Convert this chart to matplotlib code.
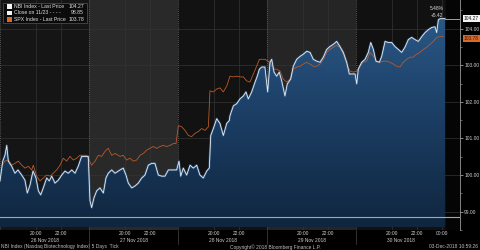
import numpy as np
import matplotlib
matplotlib.use("Agg")
import matplotlib.pyplot as plt
from matplotlib import font_manager
from matplotlib.patches import Rectangle
from matplotlib.colors import LinearSegmentedColormap
import matplotlib.transforms as mtransforms

# ---------------- data (chart time in session-hours, compressed axis) ----------------
days = ["26 Nov 2018", "27 Nov 2018", "28 Nov 2018", "29 Nov 2018", "30 Nov 2018"]
tick_clock = ["20:00", "22:00"]
last_day_extra = ["00:00"]

nbi_t = [0.00, 0.21, 0.38, 0.52, 0.64, 0.90, 1.15, 1.38, 1.67, 1.92, 2.10, 2.31, 2.54, 2.77, 2.95,
         3.13, 3.33, 3.59, 3.79, 3.98, 4.23, 4.48, 4.75, 5.00, 5.25, 5.52, 5.77, 6.02, 6.28, 6.54,
         6.79, 6.92, 7.05, 7.23, 7.44, 7.69, 7.95, 8.15, 8.33, 8.59, 8.85, 9.10, 9.23, 9.48, 9.69,
         9.87, 10.13, 10.38, 10.64, 10.90, 11.15, 11.41, 11.67, 11.92, 12.18, 12.44, 12.69, 12.95,
         13.21, 13.59, 13.77, 13.90, 14.10, 14.36, 14.62, 14.87, 15.13, 15.38, 15.64, 15.90, 16.10,
         16.21, 16.41, 16.67, 16.92, 17.18, 17.44, 17.64, 17.69, 17.95, 18.21, 18.46, 18.72, 18.92,
         19.10, 19.36, 19.62, 19.79, 19.95, 20.13, 20.38, 20.59, 20.77, 20.90, 21.08, 21.28, 21.48,
         21.67, 21.92, 22.10, 22.36, 22.56, 22.82, 23.08, 23.33, 23.59, 23.85, 24.10, 24.36, 24.62,
         24.87, 25.13, 25.38, 25.64, 25.90, 26.15, 26.41, 26.67, 26.87, 27.13, 27.31, 27.44, 27.56,
         27.82, 28.08, 28.33, 28.52, 28.72, 28.92, 29.18, 29.36, 29.62, 29.87, 30.13, 30.38, 30.64,
         30.90, 31.15, 31.41, 31.67, 31.92, 32.18, 32.44, 32.69, 32.95, 33.21, 33.46, 33.59, 33.72,
         33.85, 34.23]
nbi_v = [99.84, 100.38, 100.54, 100.81, 100.38, 100.24, 100.05, 100.14, 100.00, 99.86, 99.51, 99.73,
         100.11, 99.92, 99.57, 99.46, 99.65, 99.92, 99.84, 99.97, 99.78, 99.86, 100.00, 100.11,
         100.05, 100.14, 100.05, 100.24, 100.51, 100.51, 100.51, 99.30, 99.11, 99.38, 99.57, 99.65,
         99.51, 99.92, 100.05, 100.14, 100.05, 100.11, 100.14, 100.19, 100.00, 99.78, 99.65, 99.70,
         99.78, 99.92, 100.00, 100.27, 100.32, 100.32, 100.00, 99.97, 99.97, 100.14, 100.14, 100.14,
         100.38, 99.97, 100.19, 100.00, 100.27, 100.19, 100.27, 100.00, 99.92, 100.11, 100.19,
         101.08, 101.27, 101.54, 101.41, 101.08, 101.41, 101.49, 101.62, 101.89, 101.95, 102.08,
         102.16, 102.27, 102.08, 102.27, 102.54, 102.70, 102.89, 102.95, 102.95, 102.27, 103.08,
         103.16, 102.81, 102.70, 102.81, 102.57, 102.16, 102.49, 102.62, 102.97, 103.16, 103.24,
         103.30, 103.38, 103.35, 103.16, 103.11, 103.08, 103.22, 103.43, 103.51, 103.57, 103.65,
         103.51, 103.35, 103.08, 102.76, 102.76, 102.76, 102.49, 102.89, 103.08, 103.16, 103.35,
         103.62, 103.43, 103.11, 103.08, 103.24, 103.65, 103.62, 103.62, 103.51, 103.43, 103.35,
         103.49, 103.70, 103.76, 103.70, 103.65, 103.78, 103.89, 103.97, 104.03, 104.05, 103.89,
         104.24, 104.27, 104.27]

spx_t = [0.13, 0.38, 0.64, 0.90, 1.15, 1.41, 1.67, 1.92, 2.18, 2.44, 2.56, 2.82, 3.08, 3.33, 3.59,
         3.85, 4.10, 4.36, 4.62, 4.87, 5.13, 5.38, 5.64, 5.90, 6.15, 6.41, 6.67, 7.05, 7.31, 7.56,
         7.82, 8.08, 8.33, 8.59, 8.85, 9.10, 9.23, 9.48, 9.74, 10.00, 10.26, 10.51, 10.77, 11.03,
         11.28, 11.54, 11.79, 12.05, 12.31, 12.56, 12.82, 13.08, 13.33, 13.54, 13.72, 13.97, 14.23,
         14.49, 14.74, 15.00, 15.26, 15.51, 15.77, 16.03, 16.15, 16.41, 16.67, 16.92, 17.18, 17.44,
         17.69, 17.95, 18.21, 18.46, 18.72, 18.98, 19.23, 19.49, 19.74, 19.95, 20.13, 20.38, 20.77,
         21.02, 21.28, 21.54, 21.79, 22.05, 22.31, 22.56, 22.82, 23.08, 23.33, 23.59, 23.85, 24.10,
         24.36, 24.62, 24.87, 25.13, 25.38, 25.64, 25.90, 26.15, 26.41, 26.67, 26.92, 27.18, 27.44,
         27.69, 27.95, 28.21, 28.46, 28.72, 28.98, 29.23, 29.49, 29.74, 30.00, 30.26, 30.51, 30.77,
         31.02, 31.28, 31.54, 31.79, 32.05, 32.31, 32.56, 32.82, 33.08, 33.33, 33.59, 33.85, 34.10]
spx_v = [100.27, 100.38, 100.41, 100.27, 100.32, 100.38, 100.27, 100.19, 100.24, 100.14, 100.27,
         99.97, 99.84, 99.92, 100.00, 99.97, 100.05, 100.14, 100.27, 100.46, 100.38, 100.51, 100.41,
         100.46, 100.54, 100.54, 100.54, 100.27, 100.38, 100.54, 100.51, 100.65, 100.73, 100.54,
         100.59, 100.54, 100.51, 100.54, 100.41, 100.46, 100.38, 100.41, 100.54, 100.59, 100.68,
         100.73, 100.78, 100.73, 100.78, 100.81, 100.78, 100.81, 100.86, 100.86, 101.35, 101.32,
         101.22, 101.08, 101.05, 101.14, 101.19, 101.27, 101.22, 101.32, 102.30, 102.27, 102.35,
         102.38, 102.27, 102.43, 102.70, 102.68, 102.70, 102.68, 102.68, 102.57, 102.54, 102.76,
         102.97, 103.16, 103.16, 103.16, 103.08, 102.89, 102.89, 102.84, 102.62, 102.54, 102.62,
         102.89, 102.95, 102.97, 103.03, 103.08, 103.03, 102.97, 102.97, 103.03, 103.16, 103.35,
         103.43, 103.49, 103.54, 103.49, 103.30, 103.03, 102.84, 102.81, 102.84, 102.97, 103.08,
         103.11, 103.35, 103.24, 103.11, 103.08, 103.11, 103.11, 103.08, 103.03, 102.97, 102.95,
         103.08, 103.16, 103.22, 103.22, 103.30, 103.35, 103.43, 103.49, 103.57, 103.65, 103.76,
         103.78, 103.78]

prev_close = 98.85
nbi_last = 104.27
spx_last = 103.78
chg_pct = "5.48%"
chg_abs = "+5.42"
y_ticks = [99, 100, 101, 102, 103, 104]

# ---------------- layout constants ----------------
W, H = 480, 250
AX_H = 230.0
DAY = 89 / 13.0           # width of one session on the compressed axis
HR = 12.5 / 13.0          # one clock hour on the compressed axis
START = 17.12             # clock time at the start of each session
XMAX = 460 / 13.0
YMIN, YMAX = 98.57, 104.78
FONT = ["Liberation Sans Narrow", "Liberation Sans", "DejaVu Sans"]
avail = {f.name for f in font_manager.fontManager.ttflist}
FONT = [f for f in FONT if f in avail]
plt.rcParams["font.family"] = FONT
narrow = "Liberation Sans Narrow" in avail
FS = 4.3 if narrow else 3.5
FS_LEG = 4.6 if narrow else 3.7
TXT = "#cfcfcf"

fig = plt.figure(figsize=(W / 100, H / 100), dpi=100, facecolor="#000000")
ax = fig.add_axes([0, 20 / H, 460 / W, AX_H / H])
ax.set_facecolor("#0e0e0e")
ax.set_xlim(0, XMAX)
ax.set_ylim(YMIN, YMAX)

# session background bands
band_cols = ["#151515", "#292929", "#121212", "#252525", "#111111"]
for i, c in enumerate(band_cols):
    ax.axvspan(i * DAY, (i + 1) * DAY, color=c, zorder=0, lw=0)
ax.axvspan(446 / 13.0, XMAX, color="#050505", zorder=0, lw=0)

# grid
xt, xl = [], []
for i in range(len(days)):
    labs = tick_clock + (last_day_extra if i == len(days) - 1 else [])
    for lab in labs:
        h = int(lab[:2])
        if h < 12:
            h += 24
        xt.append(i * DAY + (h - START) * HR)
        xl.append(lab)
for x in xt:
    ax.axvline(x, color="#343434", lw=0.5, zorder=1)
for y in y_ticks:
    ax.axhline(y, color="#343434", lw=0.5, zorder=1)
for i in range(0, len(days)):
    ax.axvline(i * DAY, color="#6a6a6a", lw=0.6, ls=(0, (1, 1.5)), zorder=1)

# gradient fill under NBI
t = np.array(nbi_t)
v = np.array(nbi_v)
poly = ax.fill_between(t, v, YMIN, color="none", lw=0, zorder=2)
cmap = LinearSegmentedColormap.from_list("bb", ["#10263f", "#1b3d63", "#2a5987"])
grad = np.linspace(0, 1, 256).reshape(-1, 1)
im = ax.imshow(grad, extent=[0, t[-1], YMIN, 104.4], origin="lower", aspect="auto",
               cmap=cmap, zorder=2, interpolation="bilinear")
im.set_clip_path(poly.get_paths()[0], transform=ax.transData)

# previous close line
ax.axhline(prev_close, color="#9aaabb", lw=0.8, zorder=3)

# series lines
ax.plot(spx_t, spx_v, color="#b85a2a", lw=0.6, zorder=4)
ax.plot(t, v, color="#4a7fb5", lw=1.6, alpha=0.45, zorder=4)
ax.plot(t, v, color="#e8eef5", lw=0.6, zorder=5)
ax.plot([t[-1], XMAX], [nbi_last, nbi_last], color="#dddddd", lw=0.5, zorder=5)

# axes styling
for s in ["top", "left", "bottom"]:
    ax.spines[s].set_visible(False)
ax.spines["right"].set_color("#9a9a9a")
ax.spines["right"].set_linewidth(0.6)
ax.yaxis.tick_right()
ax.set_yticks(y_ticks)
ax.set_yticklabels([f"{y:.2f}" for y in y_ticks])
ax.set_yticks([y + 0.5 for y in y_ticks[:-1]] + [98.5, 104.5], minor=True)
ax.tick_params(axis="y", which="major", length=2, width=0.5, color="#bbbbbb",
               labelsize=FS, labelcolor=TXT, pad=1)
ax.tick_params(axis="y", which="minor", length=1.2, width=0.5, color="#888888")
ax.set_xticks(xt)
ax.set_xticklabels([])
ax.tick_params(axis="x", length=0)

bt = mtransforms.blended_transform_factory(ax.transData, ax.transAxes)
for x, lab in zip(xt, xl):
    ax.text(x, -3.6 / AX_H, lab, transform=bt, ha="center", va="center", fontsize=FS,
            color=TXT)
for i, d in enumerate(days):
    ax.text(i * DAY + 45 / 13.0, -10.2 / AX_H, d, transform=bt, ha="center", va="center",
            fontsize=FS, color=TXT)
    if i > 0:
        ax.plot([i * DAY, i * DAY], [0, -14 / AX_H], transform=bt, color="#444444", lw=0.5,
                clip_on=False)

# right-side value boxes
rt = mtransforms.blended_transform_factory(ax.transAxes, ax.transData)
ax.text(1.0 + 4 / 460, nbi_last, f"{nbi_last:.2f}", transform=rt, ha="left", va="center",
        fontsize=FS, color="#111111",
        bbox=dict(boxstyle="square,pad=0.25", fc="#f2f2f2", ec="none"), zorder=10)
ax.text(1.0 + 4 / 460, spx_last - 0.05, f"{spx_last:.2f}", transform=rt, ha="left", va="center",
        fontsize=FS, color="#3a1a08",
        bbox=dict(boxstyle="square,pad=0.25", fc="#d8692a", ec="none"), zorder=10)
ax.text(t[-1] - 0.1, nbi_last + 0.28, chg_pct, ha="right", va="center", fontsize=FS,
        color="#dddddd", zorder=10)
ax.text(t[-1] - 0.1, nbi_last + 0.09, chg_abs, ha="right", va="center", fontsize=FS,
        color="#dddddd", zorder=10)


# legend (top-left)
def fx(px):
    return px / W


def fy(py):
    return 1 - py / H


fig.patches.append(Rectangle((fx(3), fy(23)), 84 / W, 20 / H, transform=fig.transFigure,
                             fc="#0b0b0b", ec="#555555", lw=0.5, zorder=20))
leg_rows = [("NBI Index - Last Price", f"{nbi_last:.2f}", "#f5f5f5"),
            ("Close on 11/23 - - - -", f"{prev_close:.2f}", "#f5f5f5"),
            ("SPX Index - Last Price", f"{spx_last:.2f}", "#d8692a")]
for k, (lab, val, col) in enumerate(leg_rows):
    yy = 6.3 + k * 6.5
    fig.patches.append(Rectangle((fx(7), fy(yy + 2.3)), 4.5 / W, 4.5 / H,
                                 transform=fig.transFigure, fc=col, ec="none", zorder=21))
    fig.text(fx(14), fy(yy), lab, fontsize=FS_LEG, color="#e0e0e0", va="center", ha="left",
             zorder=22)
    fig.text(fx(84), fy(yy), val, fontsize=FS_LEG, color="#e0e0e0", va="center", ha="right",
             zorder=22)

# footer
fig.text(fx(1), fy(246.8), "NBI Index (Nasdaq Biotechnology Index) 5 Days  Tick", fontsize=FS,
         color="#c0c0c0", va="center", ha="left")
fig.text(fx(230), fy(246.8), "Copyright\u00a9 2018 Bloomberg Finance L.P.", fontsize=FS,
         color="#c0c0c0", va="center", ha="left")
fig.text(fx(478), fy(246.8), "03-Dec-2018 10:59:26", fontsize=FS, color="#c0c0c0",
         va="center", ha="right")

fig.savefig("out.png", dpi=100, facecolor=fig.get_facecolor())
